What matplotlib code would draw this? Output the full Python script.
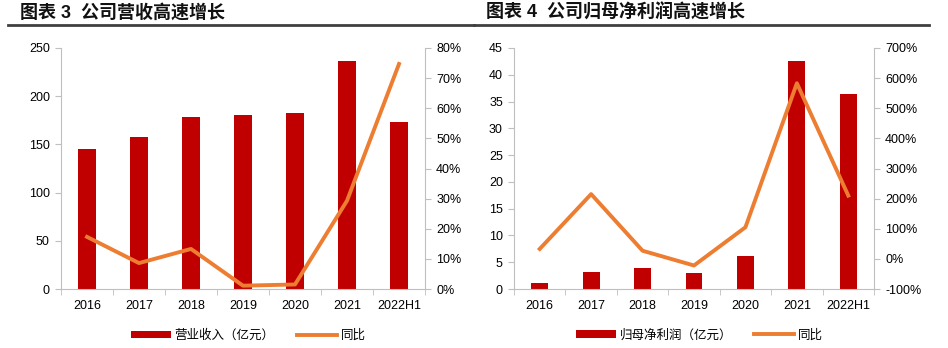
import matplotlib
matplotlib.use("Agg")
import matplotlib.pyplot as plt
from matplotlib.lines import Line2D
from matplotlib.ticker import FuncFormatter, FixedLocator
import numpy as np

plt.rcParams['font.family'] = ['Liberation Sans', 'Noto Sans CJK SC', 'DejaVu Sans']

years = ['2016', '2017', '2018', '2019', '2020', '2021', '2022H1']

revenue = [145, 157.5, 178, 180.5, 183, 236.5, 173]
revenue_yoy = [17.3, 8.6, 13.3, 1.1, 1.5, 29.3, 74.7]

profit = [1.05, 3.2, 4.0, 3.0, 6.15, 42.5, 36.5]
profit_yoy = [33, 215, 27, -22, 105, 583, 210]

BAR = '#C00000'
LINE = '#ED7D31'
GRAY = '#BFBFBF'

fig = plt.figure(figsize=(9.48, 3.48), dpi=100)


def panel(rect, bars, yoy, bar_lim, bar_step, pct_lim, pct_step, bar_label, title, line_x):
    ax = fig.add_axes(rect)
    x = np.arange(len(years))
    ax.bar(x, bars, width=0.33, color=BAR, label=bar_label, zorder=2)
    ax.set_xlim(-0.5, len(years) - 0.5)
    ax.set_ylim(*bar_lim)
    ax.set_yticks(np.arange(bar_lim[0], bar_lim[1] + 0.1, bar_step))
    ax.set_xticks(x)
    ax.set_xticklabels(years)
    ax.xaxis.set_minor_locator(FixedLocator(np.arange(-0.5, len(years), 1)))
    ax.tick_params(axis='x', which='major', length=0, pad=8, labelsize=9)
    ax.tick_params(axis='x', which='minor', length=4, color=GRAY)
    ax.tick_params(axis='y', length=4, color=GRAY, labelsize=9, pad=4)
    for s in ['top', 'right']:
        ax.spines[s].set_visible(False)
    for s in ['left', 'bottom']:
        ax.spines[s].set_color(GRAY)

    ax2 = ax.twinx()
    ax2.plot(x, yoy, color=LINE, lw=2.8, label='同比', zorder=3)
    ax2.set_ylim(*pct_lim)
    ax2.set_yticks(np.arange(pct_lim[0], pct_lim[1] + 0.1, pct_step))
    ax2.yaxis.set_major_formatter(FuncFormatter(lambda v, p: f'{v:.0f}%'))
    ax2.tick_params(axis='y', length=4, color=GRAY, labelsize=9, pad=4)
    for s in ['top', 'left', 'bottom']:
        ax2.spines[s].set_visible(False)
    ax2.spines['right'].set_color(GRAY)

    h1, l1 = ax.get_legend_handles_labels()
    h2, l2 = ax2.get_legend_handles_labels()
    ax.legend(h1 + h2, l1 + l2, loc='upper center', bbox_to_anchor=(0.515, -0.12),
              ncol=2, frameon=False, fontsize=9, handlelength=3.2,
              handleheight=0.5, columnspacing=1.8, handletextpad=0.3)

    fig.text(line_x[0] + 12 / 948, 1 - 13 / 348, title, fontsize=13,
             fontweight='bold', va='center', ha='left', color='#111111')
    fig.add_artist(Line2D(line_x, [1 - 25 / 348] * 2, color='#404040', lw=2))
    return ax


panel([61 / 948, 59 / 348, 364 / 948, 241 / 348], revenue, revenue_yoy,
      (0, 250), 50, (0, 80), 10, '营业收入（亿元）', '图表 3  公司营收高速增长',
      [8 / 948, 474 / 948])
panel([514 / 948, 59 / 348, 360 / 948, 241 / 348], profit, profit_yoy,
      (0, 45), 5, (-100, 700), 100, '归母净利润（亿元）', '图表 4  公司归母净利润高速增长',
      [474 / 948, 929 / 948])

fig.savefig('out.png', dpi=100)
